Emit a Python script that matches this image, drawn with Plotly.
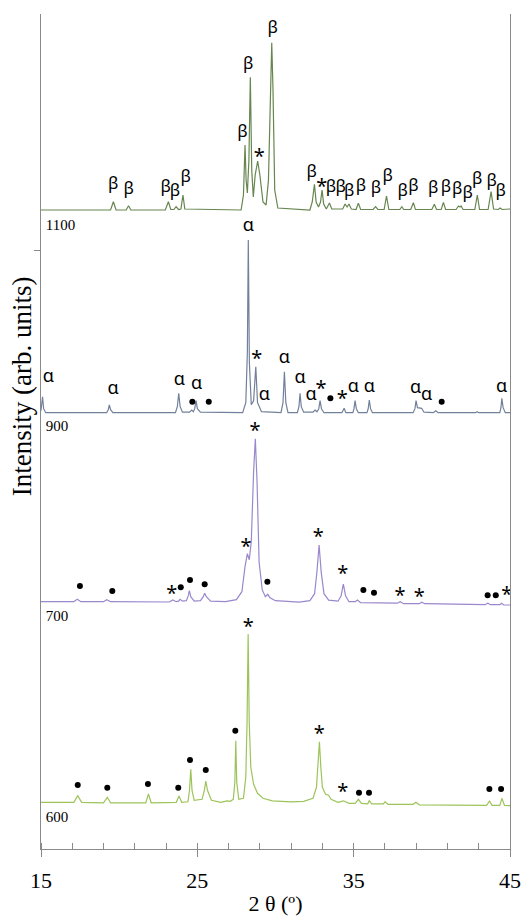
import plotly.graph_objects as go

# ---------------- data (2θ in degrees, intensity in arb. units above each pattern's baseline) -------------
temperatures = ["600", "700", "900", "1100"]
offsets = [46.7, 247.3, 436.3, 639.0]

pattern_600 = [
    (15.0, 0), (17.1, 0), (17.35, 6.6), (17.6, 0), (19.0, -0.5), (19.24, 5), (19.45, -0.5),
    (21.7, -0.5), (21.87, 8.3), (22.05, -0.5), (23.65, 0), (23.83, 6.3), (24.0, 0), (24.4, 0.5),
    (24.5, 12), (24.58, 33), (24.66, 12), (24.8, 2), (25.3, 3), (25.45, 12), (25.54, 21.3),
    (25.65, 12), (25.9, 2), (26.5, 0), (26.9, 1.5), (27.1, 1), (27.3, 3), (27.4, 20), (27.46, 61.6),
    (27.52, 20), (27.65, 3), (27.95, 4), (28.1, 25), (28.18, 80), (28.25, 168.3), (28.32, 80),
    (28.42, 35), (28.6, 18), (28.85, 9), (29.2, 4), (29.8, 1.5), (31.0, 0.5), (31.8, 1), (32.4, 4),
    (32.62, 15), (32.72, 35), (32.81, 60.6), (32.9, 35), (33.0, 15), (33.2, 8), (33.4, 7),
    (33.55, 3), (34.0, 0), (34.35, 1.5), (34.7, -1), (35.1, -1), (35.3, 3), (35.5, -1), (35.9, -1.5),
    (36.0, 1.6), (36.15, -1.5), (36.9, -1.5), (37.0, 0.5), (37.2, -2), (38.8, -2), (38.98, 0),
    (39.2, -2.5), (43.5, -3), (43.69, 1.3), (43.85, -3), (44.35, -3), (44.48, 4), (44.65, -3.2),
    (45.0, -3.4),
]

pattern_700 = [
    (15.0, 0), (17.1, 0), (17.32, 2.4), (17.55, 0), (19.0, 0), (19.2, 2), (19.45, 0), (23.2, -0.3),
    (23.43, 1.7), (23.65, 0), (23.8, 0.5), (23.9, 2.4), (24.05, 0.5), (24.3, 1), (24.42, 6),
    (24.49, 11), (24.58, 5), (24.8, 0.5), (25.2, 1), (25.38, 5), (25.47, 8.4), (25.58, 5),
    (25.85, 0.5), (26.8, 0), (27.5, 2), (27.85, 10), (28.05, 35), (28.2, 48), (28.32, 42),
    (28.45, 60), (28.6, 130), (28.71, 163), (28.82, 120), (28.95, 40), (29.15, 12), (29.35, 5),
    (29.5, 7.4), (29.65, 4), (30.0, 1), (31.5, -0.5), (32.2, 1), (32.5, 8), (32.65, 30),
    (32.79, 56.7), (32.92, 30), (33.1, 8), (33.4, 1.5), (34.0, 0.5), (34.2, 6), (34.34, 17.7),
    (34.48, 6), (34.7, 0), (35.1, 0), (35.24, 1.7), (35.45, -1), (37.8, -1.5), (37.97, 0),
    (38.2, -2), (39.2, -2), (39.35, -0.5), (39.55, -2), (43.4, -3), (43.58, -1.5), (43.75, -3),
    (44.35, -3), (44.46, -1.5), (44.6, -3.3), (45.0, -3.3),
]

pattern_900 = [
    (15.0, 2), (15.05, 10), (15.1, 16), (15.17, 4), (15.3, 0), (19.2, 0), (19.3, 3), (19.37, 7.7),
    (19.45, 3), (19.6, 0), (23.6, 0), (23.72, 6), (23.81, 19.4), (23.9, 6), (24.05, 0.5),
    (24.5, 0.5), (24.64, 2.7), (24.75, 1), (24.83, 4), (24.92, 12), (25.0, 4), (25.2, 0.5),
    (27.9, 0), (28.1, 10), (28.2, 60), (28.26, 172.7), (28.33, 50), (28.45, 8), (28.6, 12),
    (28.74, 46), (28.85, 10), (28.97, 6), (29.1, 1), (30.35, 0), (30.48, 10), (30.57, 41),
    (30.66, 10), (30.8, 0), (31.4, 0), (31.5, 6), (31.57, 19.4), (31.65, 6), (31.8, 0.5),
    (32.4, 0.5), (32.53, 2.7), (32.65, 1), (32.77, 4), (32.85, 12), (32.94, 4), (33.1, 0),
    (34.25, 0), (34.39, 4.4), (34.5, 0), (34.95, 0), (35.02, 4), (35.09, 12), (35.17, 4),
    (35.3, 0), (35.85, 0), (35.93, 4), (36.0, 12.7), (36.08, 4), (36.2, 0), (38.8, 0),
    (38.92, 4), (38.99, 12), (39.08, 5), (39.35, 4.4), (39.5, 0.5), (40.1, 0), (40.25, 2),
    (40.4, 0), (42.8, 0), (42.9, 1), (43.0, 0), (44.35, 0), (44.42, 5), (44.48, 14.4),
    (44.56, 5), (44.7, 0), (45.0, 0),
]

pattern_1100 = [
    (15.0, 0), (19.45, 0), (19.63, 8.3), (19.8, 0), (20.45, 0), (20.6, 4.3), (20.75, 0),
    (22.95, 0), (23.15, 8.3), (23.3, 0.5), (23.5, 0.5), (23.64, 3.3), (23.8, 0.5), (23.95, 1),
    (24.08, 15), (24.2, 1), (27.8, 0), (27.95, 15), (28.05, 65), (28.12, 30), (28.2, 17),
    (28.3, 50), (28.39, 132.7), (28.48, 40), (28.58, 13), (28.7, 35), (28.86, 49), (29.0, 35),
    (29.2, 8), (29.4, 5), (29.55, 30), (29.68, 120), (29.76, 167.3), (29.84, 120), (29.95, 20),
    (30.15, 2), (32.2, 0), (32.35, 8), (32.49, 25.7), (32.6, 8), (32.75, 3), (32.88, 8),
    (32.98, 20), (33.08, 6), (33.25, 1), (33.45, 7), (33.6, 1), (34.3, 1), (34.45, 6),
    (34.58, 3), (34.7, 6), (34.85, 1), (35.15, 0.5), (35.3, 6.7), (35.45, 0.5), (36.25, 0.5),
    (36.4, 3.3), (36.55, 0.5), (36.95, 0.5), (37.1, 14), (37.25, 0.5), (37.95, 0.5),
    (38.08, 3.3), (38.2, 0.5), (38.65, 0.5), (38.82, 7.3), (38.95, 0.5), (40.0, 0.5),
    (40.16, 5.7), (40.3, 0.5), (40.6, 0.5), (40.74, 7.7), (40.88, 0.5), (41.55, 0.5), (41.7, 4),
    (41.8, 3), (41.87, 4), (42.0, 0.5), (42.75, 0.5), (42.91, 15), (43.05, 0.5), (43.6, 0.5),
    (43.79, 18.3), (43.95, 1), (44.25, 0.5), (44.37, 2), (44.5, 0.5), (45.0, 1),
]

# phase marks: (symbol, 2θ, height above baseline)
labels_600 = [
    ("•", 17.35, 17.3), ("•", 19.24, 14.6), ("•", 21.84, 18.3), ("•", 23.78, 14.6),
    ("•", 24.53, 42.3), ("•", 25.54, 32.3), ("•", 27.43, 71.6), ("*", 28.26, 179),
    ("*", 32.8, 72.3), ("*", 34.3, 14), ("•", 35.34, 9.6), ("•", 35.98, 9.6),
    ("•", 43.68, 13.3), ("•", 44.43, 13.3),
]
labels_700 = [
    ("•", 17.49, 15.7), ("•", 19.56, 10.7), ("*", 23.36, 11.7), ("•", 23.94, 14.4),
    ("•", 24.53, 21.7), ("•", 25.47, 17.4), ("*", 28.11, 58.4), ("*", 28.69, 175),
    ("•", 29.48, 20), ("*", 32.74, 68.4), ("*", 34.3, 31.7), ("•", 35.62, 11.7),
    ("•", 36.3, 9), ("*", 37.96, 10), ("*", 39.2, 9), ("•", 43.57, 6.4), ("•", 44.09, 6.4),
    ("*", 44.79, 10.7),
]
labels_900 = [
    ("α", 15.47, 34.4), ("α", 19.62, 22.7), ("α", 23.85, 31), ("•", 24.68, 11),
    ("α", 24.96, 27.7), ("•", 25.73, 11), ("α", 28.26, 185.7), ("*", 28.8, 57.7),
    ("α", 29.28, 16.7), ("α", 30.56, 53.4), ("α", 31.57, 33.4), ("α", 32.27, 16),
    ("*", 32.91, 27.7), ("•", 33.51, 14.4), ("*", 34.27, 17.7), ("α", 34.98, 24.4),
    ("α", 36.0, 24.4), ("α", 38.97, 23.4), ("α", 39.67, 16), ("•", 40.63, 11),
    ("α", 44.47, 24.4),
]
labels_1100 = [
    ("β", 19.62, 25), ("β", 20.61, 20), ("β", 22.98, 22), ("β", 23.57, 18.3), ("β", 24.26, 32),
    ("β", 27.88, 77), ("β", 28.26, 145), ("*", 28.96, 57), ("β", 29.82, 181), ("β", 32.32, 37),
    ("*", 32.96, 27), ("β", 33.55, 22), ("β", 34.17, 22), ("β", 34.72, 18), ("β", 35.47, 23),
    ("β", 36.43, 21), ("β", 37.18, 33), ("β", 38.14, 18), ("β", 38.82, 23), ("β", 40.09, 21),
    ("β", 40.91, 22), ("β", 41.63, 20), ("β", 42.29, 16), ("β", 42.91, 30), ("β", 43.83, 28),
    ("β", 44.41, 18),
]

# label of each pattern (temperature) : height relative to its baseline
temp_label_heights = [-16, -16, -14.3, -16]

x_ticks = [15, 25, 35, 45]
y_tick_vals = [599]

# ---------------- styling -------------
colors = ["#9dc45a", "#9a88cc", "#72819b", "#67864f"]
patterns = [pattern_600, pattern_700, pattern_900, pattern_1100]
label_sets = [labels_600, labels_700, labels_900, labels_1100]

sym_size = {"α": 18, "β": 17, "*": 20}
sym_font = {"α": "Noto Sans, DejaVu Sans", "β": "Liberation Sans Narrow, Noto Sans, DejaVu Sans",
            "*": "Noto Sans, DejaVu Sans"}
sym_shift = {"α": 1, "β": 0, "*": -5}  # visual-centre correction (px)

fig = go.Figure()

for name, pat, off, col in zip(temperatures, patterns, offsets, colors):
    xs = [p[0] for p in pat]
    ys = [off + p[1] for p in pat]
    fig.add_trace(go.Scatter(x=xs, y=ys, mode="lines", name=name,
                             line=dict(color=col, width=1.2), hoverinfo="skip",
                             showlegend=False))

for labs, off in zip(label_sets, offsets):
    for sym in sym_size:
        sub = [l for l in labs if l[0] == sym]
        if not sub:
            continue
        fig.add_trace(go.Scatter(
            x=[l[1] for l in sub],
            y=[off + l[2] + sym_shift[sym] for l in sub],
            text=[sym] * len(sub),
            mode="text", textposition="middle center",
            textfont=dict(family=sym_font[sym], color="black", size=sym_size[sym]),
            hoverinfo="skip", showlegend=False))
    dots = [l for l in labs if l[0] == "•"]
    if dots:
        fig.add_trace(go.Scatter(
            x=[l[1] for l in dots], y=[off + l[2] for l in dots],
            mode="markers", marker=dict(symbol="circle", size=6, color="black",
                                        line=dict(width=0)),
            hoverinfo="skip", showlegend=False))

fig.add_trace(go.Scatter(
    x=[15.3] * 4,
    y=[o + h for o, h in zip(offsets, temp_label_heights)],
    text=temperatures, mode="text", textposition="middle right",
    textfont=dict(family="Liberation Serif, Times New Roman, serif", size=15, color="black"),
    hoverinfo="skip", showlegend=False))

axis_col = "#8a8a8a"
serif = "Liberation Serif, Times New Roman, serif"
fig.update_layout(
    template="none",
    width=531, height=917,
    margin=dict(l=33, r=29, t=6, b=76),
    paper_bgcolor="white", plot_bgcolor="white",
    xaxis=dict(range=[15, 45], tickvals=x_ticks, ticks="outside", ticklen=7,
               tickcolor=axis_col, showline=True, linecolor=axis_col, linewidth=1,
               showgrid=False, zeroline=False, ticklabelstandoff=5, automargin=False,
               tickfont=dict(family=serif, size=22, color="black"),
               minor=dict(dtick=2, tick0=15, ticks="inside", ticklen=6, tickcolor=axis_col),
               title=dict(text="2 θ (º)", standoff=3,
                          font=dict(family=serif, size=22, color="black"))),
    yaxis=dict(range=[0, 835], tickvals=y_tick_vals, showticklabels=False, ticks="outside",
               ticklen=6, tickcolor=axis_col, showline=True, mirror=True, linecolor=axis_col,
               linewidth=1, showgrid=False, zeroline=False, automargin=False),
    annotations=[dict(text="Intensity (arb. units)", textangle=-90, xref="paper", yref="paper",
                      x=(21.7 - 41) / 469, y=(849 - 386.5) / 835, xanchor="center", yanchor="middle",
                      showarrow=False,
                      font=dict(family=serif, size=27, color="black"))],
)

fig.write_html("out.html")
